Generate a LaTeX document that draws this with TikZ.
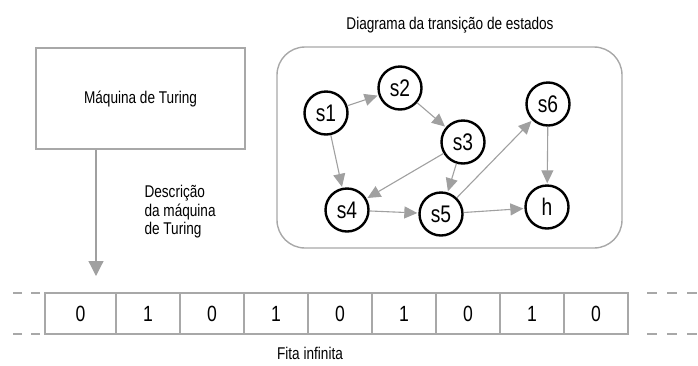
\documentclass[tikz,border=0pt]{standalone}
\usepackage{fontspec}
\setmainfont{Liberation Sans}[FakeStretch=0.8]
\usepackage{xcolor}
\usepackage{tikz}
\usetikzlibrary{arrows.meta,positioning}

\definecolor{linegray}{HTML}{A0A0A0}
\definecolor{boxgray}{HTML}{A8A8A8}

\begin{document}
\begin{tikzpicture}[x=1pt, y=-1pt,
    every node/.style={font=\fontsize{17}{18.5}\selectfont, align=center},
    state/.style={draw, circle, line width=2.4pt, minimum size=43pt, inner sep=0pt, font=\fontsize{24}{24}\selectfont},
    edge/.style={draw=linegray, line width=1.1pt, -{Triangle[length=13pt, width=12pt]}, shorten >=1pt},
    cell/.style={draw=boxgray, line width=1.4pt, minimum height=41pt, outer sep=0pt, inner sep=0pt, font=\fontsize{22}{22}\selectfont},
    tapedash/.style={draw=boxgray, line width=1.4pt, dash pattern=on 9pt off 9pt}]
    \useasboundingbox (0,0) rectangle (698,365);

    % machine and its description
    \node[draw=boxgray, line width=1.4pt, minimum width=209pt, minimum height=101pt] (machine) at (140.5,98.5) {Máquina de Turing};
    \node[anchor=west, align=left] (desc) at (141,212) {Descrição\\da máquina\\de Turing};
    \coordinate (headpos) at (96,276);
    \draw[draw=linegray, line width=1.2pt, -{Triangle[length=15pt, width=15pt]}] (machine.south -| headpos) -- (headpos);

    % state diagram
    \node (title) at (450,25) {Diagrama da transição de estados};
    \node[draw=boxgray, line width=1.4pt, rounded corners=28pt, minimum width=345pt, minimum height=201pt] (graphbox) at (449.5,147.5) {};
    \node[state] (s1) at (326,113) {s1};
    \node[state] (s2) at (400,88) {s2};
    \node[state] (s3) at (463,142) {s3};
    \node[state] (s4) at (347,210) {s4};
    \node[state] (s5) at (441,214) {s5};
    \node[state] (s6) at (548,104) {s6};
    \node[state] (halt) at (547,207) {h};

    \draw[edge] (s1) -- (s2);
    \draw[edge] (s2) -- (s3);
    \draw[edge] (s1) -- (s4);
    \draw[edge] (s3) -- (s4);
    \draw[edge] (s3) -- (s5);
    \draw[edge] (s4) -- (s5);
    \draw[edge] (s5) -- (s6);
    \draw[edge] (s5) -- (halt);
    \draw[edge] (s6) -- (halt);

    % tape
    \node[cell, minimum width=71pt] (c1) at (80.5,313.5) {0};
    \foreach \v [count=\i from 2] in {1,0,1,0,1,0,1,0} {
        \pgfmathtruncatemacro{\prev}{\i-1}
        \node[cell, minimum width=64pt, right=0pt of c\prev] (c\i) {\v};
    }
    \draw[tapedash, shorten <=5pt] (c1.north west) -- ++(-32,0);
    \draw[tapedash, shorten <=5pt] (c1.south west) -- ++(-32,0);
    \draw[tapedash, dash pattern=on 10pt off 10pt, shorten <=19pt] (c9.north east) -- ++(70,0);
    \draw[tapedash, dash pattern=on 10pt off 10pt, shorten <=19pt] (c9.south east) -- ++(70,0);
    \node (tapelabel) at (310,353) {Fita infinita};
\end{tikzpicture}
\end{document}
